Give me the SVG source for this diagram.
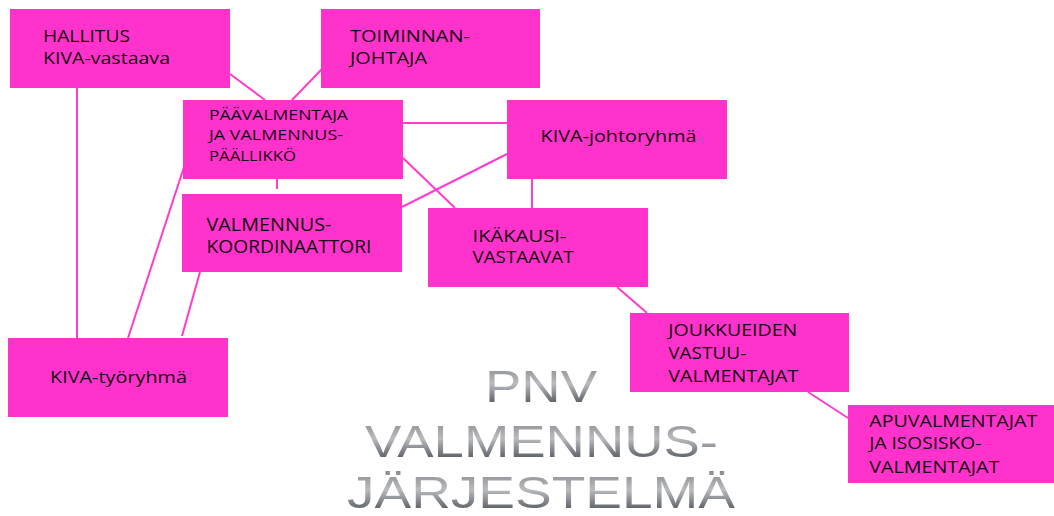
<svg xmlns="http://www.w3.org/2000/svg" width="1054" height="516" viewBox="0 0 1054 516">
<defs>
<style>
.box{fill:#ff33cc}
.t{font-family:"Open Sans","Liberation Sans",sans-serif;fill:#14060f;font-weight:500}
.c{stroke:#ff3ccc;stroke-width:2;fill:none}
.title{font-family:"Liberation Sans",Arial,sans-serif;font-size:45px;text-anchor:middle;fill:url(#metal)}
</style>
<linearGradient id="metal" x1="0" y1="0" x2="0" y2="1">
<stop offset="0" stop-color="#7f8285"/>
<stop offset="0.45" stop-color="#b9bbbe"/>
<stop offset="0.7" stop-color="#7c8085"/>
<stop offset="1" stop-color="#363b40"/>
</linearGradient>
</defs>
<rect width="1054" height="516" fill="#ffffff"/>
<g id="connectors">
<line class="c" x1="77" y1="88" x2="77" y2="338"/>
<line class="c" x1="230" y1="74" x2="265" y2="100"/>
<line class="c" x1="322" y1="69" x2="292" y2="100"/>
<line class="c" x1="403" y1="123" x2="507" y2="123"/>
<line class="c" x1="403" y1="158" x2="455" y2="208"/>
<line class="c" x1="507" y1="154" x2="402" y2="207"/>
<line class="c" x1="532" y1="179" x2="532" y2="208"/>
<line class="c" x1="277" y1="179" x2="277" y2="189"/>
<line class="c" x1="184" y1="167" x2="128" y2="338"/>
<line class="c" x1="200" y1="272" x2="182" y2="336"/>
<line class="c" x1="617" y1="287" x2="647" y2="313"/>
<line class="c" x1="808" y1="392" x2="848" y2="418"/>
</g>
<g id="hallitus">
<rect class="box" x="10" y="9" width="220" height="79"/>
<text class="t" font-size="17"><tspan x="43" y="42" textLength="87" lengthAdjust="spacingAndGlyphs">HALLITUS</tspan><tspan x="43" y="63.5" textLength="127" lengthAdjust="spacingAndGlyphs">KIVA-vastaava</tspan></text>
</g>
<g id="toiminnanjohtaja">
<rect class="box" x="321" y="9" width="219" height="79"/>
<text class="t" font-size="17"><tspan x="350" y="42" textLength="120" lengthAdjust="spacingAndGlyphs">TOIMINNAN-</tspan><tspan x="350" y="63.5" textLength="77" lengthAdjust="spacingAndGlyphs">JOHTAJA</tspan></text>
</g>
<g id="paavalmentaja">
<rect class="box" x="183" y="100" width="220" height="79"/>
<text class="t" font-size="14.5"><tspan x="209" y="119.5" textLength="139" lengthAdjust="spacingAndGlyphs">PÄÄVALMENTAJA</tspan><tspan x="209" y="140" textLength="134" lengthAdjust="spacingAndGlyphs">JA VALMENNUS-</tspan><tspan x="209" y="160.7" textLength="87" lengthAdjust="spacingAndGlyphs">PÄÄLLIKKÖ</tspan></text>
</g>
<g id="kivajohtoryhma">
<rect class="box" x="507" y="100" width="220" height="79"/>
<text class="t" font-size="16.5"><tspan x="540.5" y="142.3" textLength="156" lengthAdjust="spacingAndGlyphs">KIVA-johtoryhmä</tspan></text>
</g>
<g id="valmennuskoordinaattori">
<rect class="box" x="182" y="194" width="220" height="78"/>
<text class="t" font-size="17.5"><tspan x="206.5" y="230.5" textLength="125" lengthAdjust="spacingAndGlyphs">VALMENNUS-</tspan><tspan x="206.5" y="253" textLength="165" lengthAdjust="spacingAndGlyphs">KOORDINAATTORI</tspan></text>
</g>
<g id="ikakausivastaavat">
<rect class="box" x="428" y="208" width="220" height="79"/>
<text class="t" font-size="16.5"><tspan x="472.5" y="241.7" textLength="94" lengthAdjust="spacingAndGlyphs">IKÄKAUSI-</tspan><tspan x="472.5" y="263.3" textLength="101" lengthAdjust="spacingAndGlyphs">VASTAAVAT</tspan></text>
</g>
<g id="kivatyoryhma">
<rect class="box" x="8" y="338" width="220" height="79"/>
<text class="t" font-size="16.5"><tspan x="50" y="382.7" textLength="137" lengthAdjust="spacingAndGlyphs">KIVA-työryhmä</tspan></text>
</g>
<g id="joukkueiden">
<rect class="box" x="630" y="313" width="219" height="79"/>
<text class="t" font-size="16.5"><tspan x="668.3" y="336" textLength="129" lengthAdjust="spacingAndGlyphs">JOUKKUEIDEN</tspan><tspan x="668.3" y="358.8" textLength="78" lengthAdjust="spacingAndGlyphs">VASTUU-</tspan><tspan x="668.3" y="381.7" textLength="130" lengthAdjust="spacingAndGlyphs">VALMENTAJAT</tspan></text>
</g>
<g id="apuvalmentajat">
<rect class="box" x="848" y="405" width="220" height="78"/>
<text class="t" font-size="16"><tspan x="869.3" y="426.7" textLength="168" lengthAdjust="spacingAndGlyphs">APUVALMENTAJAT</tspan><tspan x="869.3" y="449" textLength="112" lengthAdjust="spacingAndGlyphs">JA ISOSISKO-</tspan><tspan x="869.3" y="472.7" textLength="130" lengthAdjust="spacingAndGlyphs">VALMENTAJAT</tspan></text>
</g>
<g id="title">
<text class="title" x="541" y="401.7" textLength="112" lengthAdjust="spacingAndGlyphs">PNV</text>
<text class="title" x="541.5" y="456.7" textLength="353" lengthAdjust="spacingAndGlyphs">VALMENNUS-</text>
<text class="title" x="541" y="508" textLength="388" lengthAdjust="spacingAndGlyphs">JÄRJESTELMÄ</text>
</g>
</svg>
